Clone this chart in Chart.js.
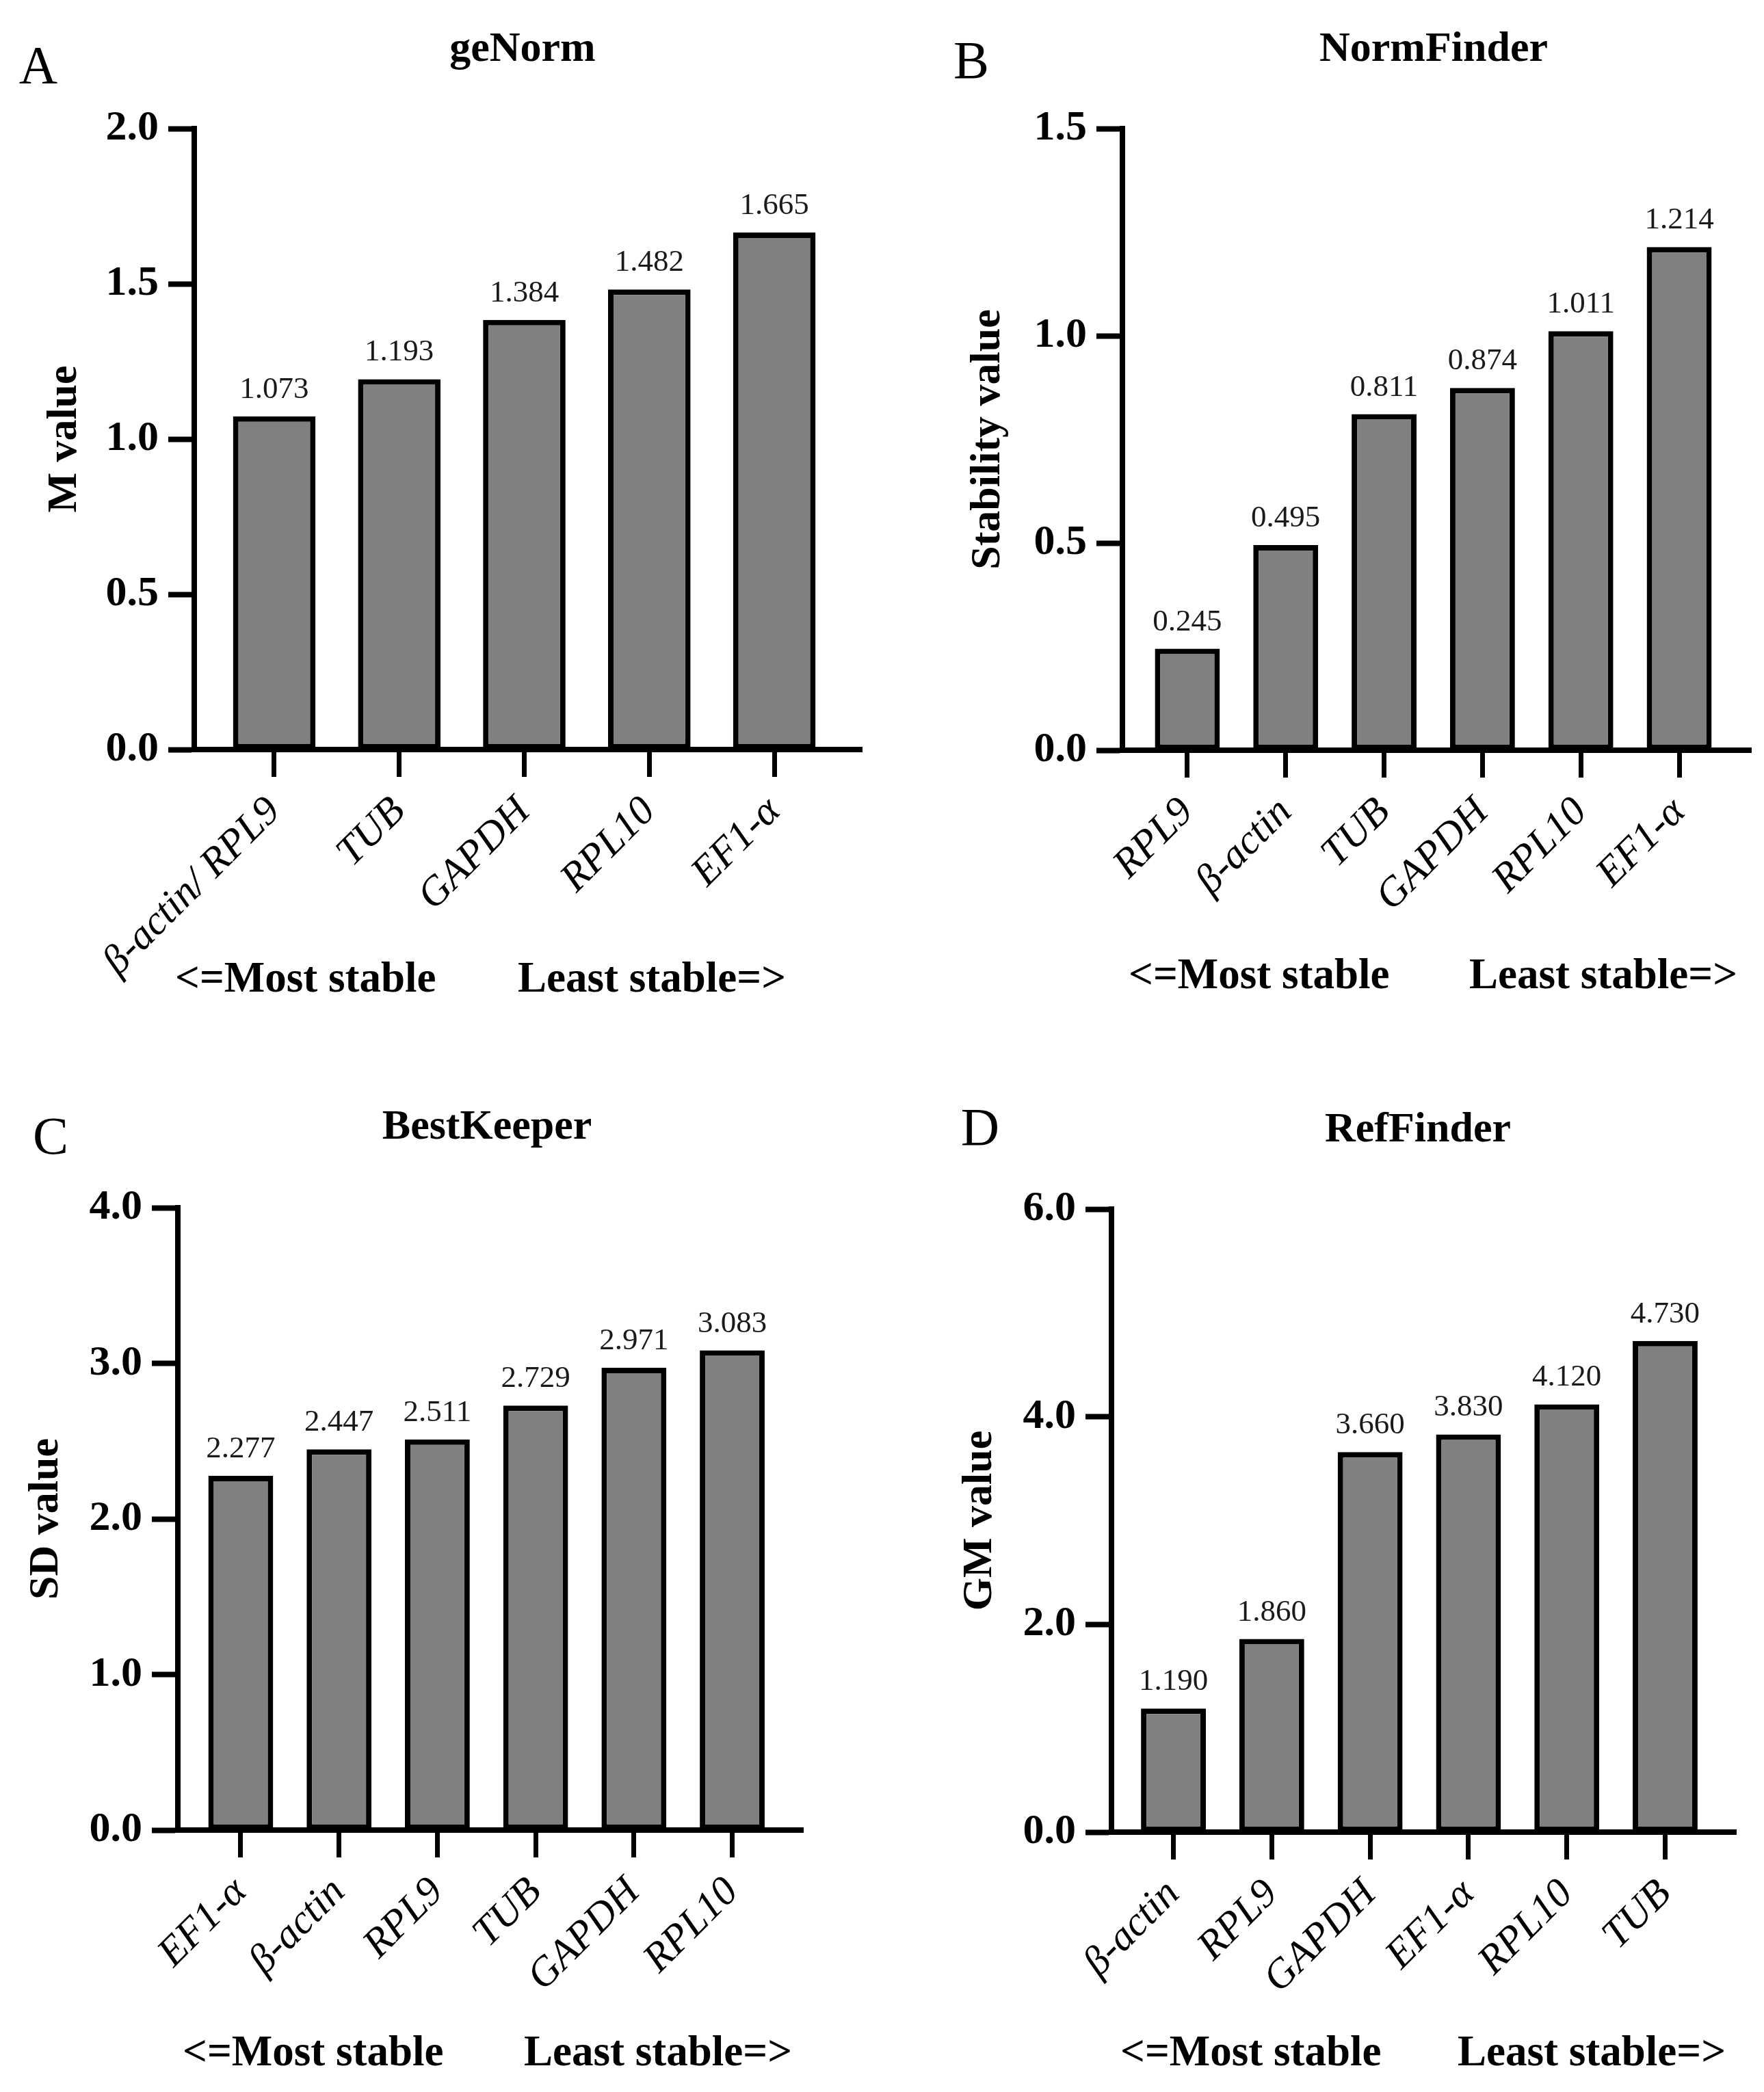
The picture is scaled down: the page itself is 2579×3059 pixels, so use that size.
<!DOCTYPE html>
<html>
<head>
<meta charset="utf-8">
<script src="https://cdn.jsdelivr.net/npm/chart.js@4.4.1/dist/chart.umd.min.js"></script>
<style>
  html, body { margin: 0; padding: 0; background: #fff; }
  #page { position: relative; width: 2579px; height: 3059px; font-family: "Liberation Serif", "Times New Roman", serif; color: #000; }
  canvas { position: absolute; }
  .txt { position: absolute; white-space: nowrap; line-height: 1; transform: translate(-50%, -50%); }
  .letter { font-size: 78px; }
  .title { font-size: 62px; font-weight: bold; }
  .cap { font-size: 63px; font-weight: bold; transform: translate(0, -50%); }
</style>
</head>
<body>
<div id="page">
  <canvas id="cA" width="1290" height="1530" style="left:0;top:0"></canvas>
  <canvas id="cB" width="1289" height="1530" style="left:1290px;top:0"></canvas>
  <canvas id="cC" width="1290" height="1529" style="left:0;top:1530px"></canvas>
  <canvas id="cD" width="1289" height="1529" style="left:1290px;top:1530px"></canvas>

  <div class="txt letter" style="left:56px;top:95px">A</div>
  <div class="txt letter" style="left:1420px;top:88px">B</div>
  <div class="txt letter" style="left:74px;top:1661px">C</div>
  <div class="txt letter" style="left:1433px;top:1648px">D</div>

  <div class="txt title" style="left:764px;top:68px">geNorm</div>
  <div class="txt title" style="left:2096px;top:68px">NormFinder</div>
  <div class="txt title" style="left:712px;top:1644px">BestKeeper</div>
  <div class="txt title" style="left:2073px;top:1648px">RefFinder</div>

  <div class="txt cap" style="left:256px;top:1429px">&lt;=Most stable</div>
  <div class="txt cap" style="left:757px;top:1429px">Least stable=&gt;</div>
  <div class="txt cap" style="left:1650px;top:1424px">&lt;=Most stable</div>
  <div class="txt cap" style="left:2148px;top:1424px">Least stable=&gt;</div>
  <div class="txt cap" style="left:267px;top:2999px">&lt;=Most stable</div>
  <div class="txt cap" style="left:766px;top:2999px">Least stable=&gt;</div>
  <div class="txt cap" style="left:1638px;top:2999px">&lt;=Most stable</div>
  <div class="txt cap" style="left:2131px;top:2999px">Least stable=&gt;</div>
</div>

<script>
// data
const genormGenes = ['β-actin/ RPL9', 'TUB', 'GAPDH', 'RPL10', 'EF1-α'];
const genormValues = [1.073, 1.193, 1.384, 1.482, 1.665];
const genormTicks = [0, 0.5, 1.0, 1.5, 2.0];

const normfinderGenes = ['RPL9', 'β-actin', 'TUB', 'GAPDH', 'RPL10', 'EF1-α'];
const normfinderValues = [0.245, 0.495, 0.811, 0.874, 1.011, 1.214];
const normfinderTicks = [0, 0.5, 1.0, 1.5];

const bestkeeperGenes = ['EF1-α', 'β-actin', 'RPL9', 'TUB', 'GAPDH', 'RPL10'];
const bestkeeperValues = [2.277, 2.447, 2.511, 2.729, 2.971, 3.083];
const bestkeeperTicks = [0, 1.0, 2.0, 3.0, 4.0];

const reffinderGenes = ['β-actin', 'RPL9', 'GAPDH', 'EF1-α', 'RPL10', 'TUB'];
const reffinderValues = [1.190, 1.860, 3.660, 3.830, 4.120, 4.730];
const reffinderTicks = [0, 2.0, 4.0, 6.0];

const FONT = '"Liberation Serif", "Times New Roman", serif';

// numbers printed above the bars
const valueLabels = {
  id: 'valueLabels',
  afterDatasetsDraw(chart) {
    const ctx = chart.ctx;
    const ds = chart.data.datasets[0];
    ctx.save();
    ctx.font = '45px ' + FONT;
    ctx.fillStyle = '#1a1a1a';
    ctx.textAlign = 'center';
    ctx.textBaseline = 'alphabetic';
    chart.getDatasetMeta(0).data.forEach((bar, i) => {
      ctx.fillText(ds.data[i].y.toFixed(3), bar.x, bar.y - 27);
    });
    ctx.restore();
  }
};

function makeChart(id, genes, values, yTicks, yTitle, box) {
  const cv = document.getElementById(id);
  return new Chart(cv, {
    type: 'bar',
    data: {
      datasets: [{
        data: values.map((v, i) => ({ x: i, y: v })),
        backgroundColor: '#808080',
        borderColor: '#000',
        borderWidth: 8,
        borderSkipped: false,
        categoryPercentage: 1,
        barPercentage: 0.66
      }]
    },
    options: {
      responsive: false,
      animation: false,
      devicePixelRatio: 1,
      layout: { padding: { left: 0, top: box.t, right: cv.width - box.r, bottom: 0 } },
      plugins: { legend: { display: false }, tooltip: { enabled: false } },
      scales: {
        x: {
          type: 'linear',
          offset: false,
          min: box.xMin,
          max: box.xMax,
          afterBuildTicks: s => { s.ticks = genes.map((g, i) => ({ value: i })); },
          afterFit: s => { s.height = cv.height - box.b; },
          ticks: {
            autoSkip: false,
            minRotation: 45,
            maxRotation: 45,
            padding: 16,
            color: '#000',
            font: { family: FONT, size: 60, style: 'italic' },
            callback: v => genes[v]
          },
          grid: { offset: false, drawOnChartArea: false, drawTicks: true, tickLength: 40, tickWidth: 7, tickColor: '#000' },
          border: { display: true, color: '#000', width: 8 }
        },
        y: {
          min: yTicks[0],
          max: yTicks[yTicks.length - 1],
          afterBuildTicks: s => { s.ticks = yTicks.map(v => ({ value: v })); },
          afterFit: s => { s.width = box.l; },
          ticks: {
            padding: 14,
            color: '#000',
            font: { family: FONT, size: 62, weight: 'bold' },
            callback: v => v.toFixed(1)
          },
          grid: { drawOnChartArea: false, drawTicks: true, tickLength: 38, tickWidth: 8, tickColor: '#000' },
          border: { display: true, color: '#000', width: 8 },
          title: {
            display: true,
            text: yTitle,
            color: '#000',
            font: { family: FONT, size: 62, weight: 'bold' },
            padding: { top: box.tp, bottom: 0 }
          }
        }
      }
    },
    plugins: [valueLabels]
  });
}

makeChart('cA', genormGenes, genormValues, genormTicks, 'M value',
  { l: 284, t: 188, r: 1260, b: 1096, xMin: -0.64, xMax: 4.70, tp: 58 });
makeChart('cB', normfinderGenes, normfinderValues, normfinderTicks, 'Stability value',
  { l: 351, t: 188, r: 1270, b: 1097, xMin: -0.66, xMax: 5.73, tp: 118 });
makeChart('cC', bestkeeperGenes, bestkeeperValues, bestkeeperTicks, 'SD value',
  { l: 260, t: 236, r: 1174, b: 1146, xMin: -0.64, xMax: 5.72, tp: 31 });
makeChart('cD', reffinderGenes, reffinderValues, reffinderTicks, 'GM value',
  { l: 335, t: 238, r: 1248, b: 1149, xMin: -0.63, xMax: 5.72, tp: 106 });
</script>
</body>
</html>
